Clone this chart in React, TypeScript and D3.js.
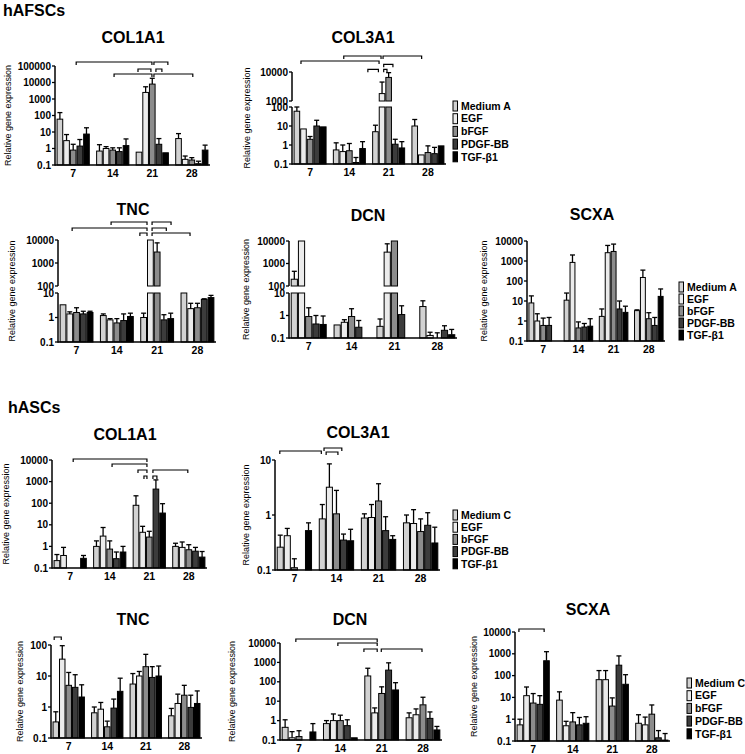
import React from 'react';
import * as d3 from 'd3';

// ---------- shared categories ----------
const DAYS = ['7', '14', '21', '28'];
const SERIES_A = ['Medium A', 'EGF', 'bFGF', 'PDGF-BB', 'TGF-β1'];
const SERIES_C = ['Medium C', 'EGF', 'bFGF', 'PDGF-BB', 'TGF-β1'];
const FILLS = ['#d2d2d2', '#ebebeb', '#8c8c8c', '#3c3c3c', '#000000'];

// ---------- hAFSCs (mean / upper error tip), rows = days, cols = series ----------
const AF_COL1A1 = [[60, 3, 0.8, 1.4, 7.5], [0.7, 1.0, 0.8, 0.65, 1.5], [0.6, 2500, 8000, 1.8, 0.55], [4, 0.22, 0.2, 0.12, 0.8]];
const AF_COL1A1_ERR = [[150, 7, 1.8, 3.5, 18], [1.7, 1.3, 1.1, 1.1, 3.8], [null, 5500, 18000, 4, null], [8, 0.35, 0.28, 0.17, 1.6]];
const AF_COL3A1 = [[60, 7, 2, 10, 9], [0.55, 0.45, 0.5, 0.12, 0.65], [5, 1800, 6500, 1.1, 0.7], [10, 0.3, 0.4, 0.35, 0.9]];
const AF_COL3A1_ERR = [[100, null, 2.8, 20, null], [1.3, 1.0, 1.2, 0.22, 1.5], [11, 4500, 9500, 2, 1.5], [22, null, 0.9, 0.75, null]];
const AF_TNC = [[3.3, 1.4, 1.6, 1.4, 1.6], [1.2, 0.8, 0.6, 0.75, 1.1], [1.0, 12000, 3000, 0.8, 0.9], [50, 2.3, 2.5, 5.5, 6.5]];
const AF_TNC_ERR = [[null, 1.7, 2.5, 1.8, 1.8], [1.4, 0.9, 0.9, 1.4, 1.5], [1.5, null, 7500, 1.3, 1.5], [null, 3.8, 3.8, 5.8, 8]];
const AF_DCN = [[200, 20000, 0.9, 0.42, 0.4], [0.38, 0.5, 0.9, 0.3, null], [0.33, 3200, 20000, 1.1, null], [2.5, 0.13, 0.1, 0.22, 0.14]];
const AF_DCN_ERR = [[450, null, 2.2, 1.0, 0.95], [null, 0.65, 2.0, 0.6, null], [0.7, 7500, null, 2.7, null], [4.5, 0.18, 0.17, 0.35, 0.24]];
const AF_SCXA = [[8, 1.0, 0.6, 0.6, null], [11, 850, 0.45, 0.5, 0.55], [1.7, 2600, 3000, 4, 2.7], [3.3, 150, 1.3, 0.6, 17]];
const AF_SCXA_ERR = [[18, 2.3, 1.4, 1.5, null], [25, 2000, 0.9, 0.75, 1.3], [4, 6000, 7000, 10, 5.5], [3.6, 350, 2.6, 1.5, 40]];

// ---------- hASCs ----------
const AS_COL1A1 = [[0.22, 0.38, null, null, 0.28], [1.0, 3, 0.75, 0.27, 0.55], [80, 4.5, 2.7, 450, 35], [1.0, 0.9, 0.7, 0.6, 0.32]];
const AS_COL1A1_ERR = [[0.42, 0.9, null, null, 0.38], [1.8, 7.5, 1.8, 0.55, 1.0], [220, 8.5, 5, 1200, 95], [1.4, 1.6, 1.2, 0.9, 0.58]];
const AS_COL3A1 = [[0.26, 0.42, 0.11, null, 0.52], [0.85, 3.2, 1.05, 0.35, 0.34], [0.88, 0.9, 1.8, 0.52, 0.36], [0.72, 0.7, 0.5, 0.65, 0.31]];
const AS_COL3A1_ERR = [[0.43, 0.57, 0.16, null, 0.72], [1.55, 8.5, 2.8, 0.45, 0.55], [1.05, 1.55, 3.7, 0.93, 0.42], [1.0, 1.25, 0.85, 1.1, 0.6]];
const AS_TNC = [[0.33, 35, 5, 4.3, 2.1], [0.65, 0.85, 0.23, 0.92, 3.2], [5.5, 10, 20, 9, 10], [0.52, 1.3, 2.4, 0.97, 1.3]];
const AS_TNC_ERR = [[0.7, 95, 13, 11, 5.2], [1.0, 1.4, 0.35, 1.8, 8.5], [12, 14, 50, 20, 21], [0.9, 2.6, 5, 2.4, 3.3]];
const AS_DCN = [[0.45, 0.13, 0.15, null, 0.26], [0.7, 1.0, 1.0, 0.55, 0.13], [200, 2.5, 25, 400, 38], [1.4, 2.0, 6.5, 1.3, 0.33]];
const AS_DCN_ERR = [[1.1, 0.27, 0.3, null, 0.7], [1.0, 2.2, 1.9, 1.1, null], [500, 4.5, 55, 950, 90], [2.5, 4, 16, 2.8, 0.5]];
const AS_SCXA = [[0.55, 12, 5.5, 4.8, 480], [7.5, 0.5, 0.75, 0.55, 0.65], [65, 65, 4, 300, 40], [0.65, 0.55, 1.7, 0.14, 0.11]];
const AS_SCXA_ERR = [[1.0, 30, 15, 12, 1250], [18, 0.8, 2, 1.2, 1.3], [170, 170, 9.5, 800, 110], [1.6, 1.25, 4.5, 0.3, 0.22]];

// ---------- significance brackets: [dayA, barA, dayB, barB, level offset] ----------
const AF_COL1A1_SIG = [[0, 2.3, 2, 2.1, -4], [2, 2.1, 2, 4.5, -4], [2, -0.3, 2, 1.95, 3], [2, 2.4, 2, 3.6, 3], [1, 2.05, 2, 2.1, 8], [2, 2.1, 3, 2.3, 8]];
const AF_COL3A1_SIG = [[1, 1, 2, 1, -16], [2, 1, 3, 1.2, -16], [0, 0.47, 2, 0.7, -11], [2, 1.1, 2, 2.8, -7.7], [2, -1.3, 2, 0.6, -2.7], [2, 1.1, 2, 1.9, -2.7]];
const AF_TNC_SIG = [[1, 1, 2, 0.65, -18], [2, 1.1, 2, 4.2, -18], [0, 1.2, 2, 0.65, -12], [2, 1.1, 2, 3.5, -12], [2, -0.7, 2, 0.65, -7], [2, 1.1, 3, 1.05, -7]];
const AS_COL1A1_SIG = [[0, 2.3, 2, 1.8, -1], [1, 2.2, 2, 1.8, 4], [2, 0.15, 2, 1.8, 10], [2, 2.4, 3, 2.0, 10], [2, 1.05, 2, 1.8, 16], [2, 2.4, 2, 3.3, 16]];
const AS_COL3A1_SIG = [[0, -0.2, 1, 0, -9], [1, 0.1, 1, 2.9, -12], [1, 0.4, 1, 2.35, -8]];
const AS_TNC_SIG = [[0, -0.4, 0, 1.0, -8]];
const AS_DCN_SIG = [[0, 1.4, 2, 1.5, -4], [1, 1.5, 2, 1.5, 0], [2, -0.7, 2, 1.5, 6], [2, 1.8, 3, 2.0, 6]];
const AS_SCXA_SIG = [[0, -0.3, 0, 3.8, -3]];

type Seg = { lo: number; hi: number; y0: number; y1: number };
type Cfg = {
  title: string; tx: number; ty: number;
  xr: [number, number]; segs: Seg[];
  mean: (number | null)[][]; err: (number | null)[][];
  sig?: number[][]; ylx: number;
  legend?: { x: number; y: number; gap: number; names: string[] };
};

const PANELS: Cfg[] = [
  { title: 'COL1A1', tx: 133, ty: 43, xr: [55, 210], segs: [{ lo: 0.1, hi: 100000, y0: 165, y1: 66 }], mean: AF_COL1A1, err: AF_COL1A1_ERR, sig: AF_COL1A1_SIG, ylx: 9 },
  { title: 'COL3A1', tx: 363, ty: 43, xr: [292, 446], segs: [{ lo: 0.1, hi: 100, y0: 164, y1: 107 }, { lo: 1000, hi: 10000, y0: 101, y1: 72 }], mean: AF_COL3A1, err: AF_COL3A1_ERR, sig: AF_COL3A1_SIG, ylx: 248, legend: { x: 453, y: 106, gap: 12.7, names: SERIES_A } },
  { title: 'TNC', tx: 133, ty: 215, xr: [58, 216], segs: [{ lo: 0.1, hi: 10, y0: 342, y1: 293 }, { lo: 100, hi: 10000, y0: 286, y1: 240 }], mean: AF_TNC, err: AF_TNC_ERR, sig: AF_TNC_SIG, ylx: 13 },
  { title: 'DCN', tx: 368, ty: 221, xr: [289, 457], segs: [{ lo: 0.1, hi: 10, y0: 338, y1: 293 }, { lo: 100, hi: 10000, y0: 286, y1: 241 }], mean: AF_DCN, err: AF_DCN_ERR, ylx: 247 },
  { title: 'SCXA', tx: 592, ty: 220, xr: [527, 665], segs: [{ lo: 0.1, hi: 10000, y0: 341, y1: 241 }], mean: AF_SCXA, err: AF_SCXA_ERR, ylx: 485, legend: { x: 679, y: 287, gap: 12, names: SERIES_A } },
  { title: 'COL1A1', tx: 125, ty: 440, xr: [52, 207], segs: [{ lo: 0.1, hi: 10000, y0: 568, y1: 460 }], mean: AS_COL1A1, err: AS_COL1A1_ERR, sig: AS_COL1A1_SIG, ylx: 7 },
  { title: 'COL3A1', tx: 358, ty: 438, xr: [275, 440], segs: [{ lo: 0.1, hi: 10, y0: 570, y1: 460 }], mean: AS_COL3A1, err: AS_COL3A1_ERR, sig: AS_COL3A1_SIG, ylx: 247, legend: { x: 453, y: 515, gap: 12.2, names: SERIES_C } },
  { title: 'TNC', tx: 133, ty: 625, xr: [51, 202], segs: [{ lo: 0.1, hi: 100, y0: 738, y1: 645 }], mean: AS_TNC, err: AS_TNC_ERR, sig: AS_TNC_SIG, ylx: 21 },
  { title: 'DCN', tx: 350, ty: 625, xr: [280, 442], segs: [{ lo: 0.1, hi: 10000, y0: 740, y1: 643 }], mean: AS_DCN, err: AS_DCN_ERR, sig: AS_DCN_SIG, ylx: 233 },
  { title: 'SCXA', tx: 588, ty: 615, xr: [515, 670], segs: [{ lo: 0.1, hi: 10000, y0: 741, y1: 632 }], mean: AS_SCXA, err: AS_SCXA_ERR, sig: AS_SCXA_SIG, ylx: 475, legend: { x: 687, y: 683, gap: 12.7, names: SERIES_C } },
];

const FONT = '"Liberation Sans", Arial, sans-serif';

function fmt(v: number) {
  return v < 1 ? String(v) : d3.format('d')(v);
}

function Panel({ c }: { c: Cfg }) {
  const x = d3.scaleBand<string>().domain(DAYS).range(c.xr).paddingInner(0.16).paddingOuter(0.04);
  const bw = x.bandwidth() / SERIES_A.length;
  const segs = c.segs.map((s) => ({ ...s, sc: d3.scaleLog().domain([s.lo, s.hi]).range([s.y0, s.y1]) }));
  const bottom = segs[0].y0;
  const top = segs[segs.length - 1].y1;
  const barX = (g: number, b: number) => (x(DAYS[g]) as number) + (b + 0.5) * bw;
  const elems: React.ReactNode[] = [];

  c.mean.forEach((row, g) => {
    row.forEach((v, s) => {
      if (v == null) return;
      const x0 = (x(DAYS[g]) as number) + s * bw + 0.5;
      segs.forEach((sg, k) => {
        if (v <= sg.lo) return;
        const yt = sg.sc(Math.min(v, sg.hi));
        elems.push(
          <rect key={`b${g}-${s}-${k}`} x={x0} y={yt} width={bw - 1} height={Math.max(0, sg.y0 - yt)}
            fill={FILLS[s]} stroke="#000" strokeWidth={1} />
        );
      });
      const e = c.err[g][s];
      if (e != null && e > v) {
        let sg = segs.find((q) => e >= q.lo && e <= q.hi) || segs[segs.length - 1];
        const vv = Math.max(v, sg.lo);
        const cx = barX(g, s);
        const y1 = sg.sc(Math.min(vv, sg.hi));
        const capped = e <= sg.hi;
        const y2 = sg.sc(Math.min(e, sg.hi));
        elems.push(<line key={`e${g}-${s}`} x1={cx} x2={cx} y1={y1} y2={y2} stroke="#000" strokeWidth={1.3} />);
        if (capped) elems.push(<line key={`c${g}-${s}`} x1={cx - 2.5} x2={cx + 2.5} y1={y2} y2={y2} stroke="#000" strokeWidth={1.3} />);
      }
    });
  });

  const axisX = c.xr[0];
  return (
    <g fontFamily={FONT}>
      <text x={c.tx} y={c.ty} textAnchor="middle" fontSize={16} fontWeight="bold">{c.title}</text>
      <text transform={`translate(${c.ylx},${(top + bottom) / 2}) rotate(-90)`} textAnchor="middle" dominantBaseline="middle" fontSize={9}>Relative gene expression</text>
      {elems}
      {segs.map((sg, k) => {
        const ticks: number[] = [];
        for (let t = sg.lo; t <= sg.hi * 1.0001; t *= 10) ticks.push(t);
        return (
          <g key={`ax${k}`}>
            <line x1={axisX} x2={axisX} y1={sg.y0 + (k === 0 ? 0.75 : 0)} y2={sg.y1} stroke="#000" strokeWidth={1.5} />
            {ticks.map((t) => (
              <g key={t}>
                <line x1={axisX - 3} x2={axisX} y1={sg.sc(t)} y2={sg.sc(t)} stroke="#000" strokeWidth={1.3} />
                <text x={axisX - 4} y={sg.sc(t)} dy="0.35em" textAnchor="end" fontSize={10} fontWeight="bold">{fmt(Math.round(t * 10) / 10)}</text>
              </g>
            ))}
          </g>
        );
      })}
      <line x1={axisX} x2={c.xr[1]} y1={bottom} y2={bottom} stroke="#000" strokeWidth={1.5} />
      {DAYS.map((d) => (
        <text key={d} x={(x(d) as number) + x.bandwidth() / 2} y={bottom + 12} textAnchor="middle" fontSize={10.5} fontWeight="bold">{d}</text>
      ))}
      {(c.sig || []).map(([g1, b1, g2, b2, dy], i) => {
        const xa = barX(g1, b1) + 1;
        const xb = barX(g2, b2) - 1;
        const y = top + dy;
        return <path key={`s${i}`} d={`M${xa},${y + 3}V${y}H${xb}V${y + 3}`} fill="none" stroke="#000" strokeWidth={1.2} />;
      })}
      {c.legend && c.legend.names.map((n, i) => (
        <g key={n}>
          <rect x={c.legend!.x} y={c.legend!.y + i * c.legend!.gap - 5} width={4.5} height={10} fill={FILLS[i]} stroke="#000" strokeWidth={1} />
          <text x={c.legend!.x + 8} y={c.legend!.y + i * c.legend!.gap} dy="0.36em" fontSize={10.5} fontWeight="bold">{n}</text>
        </g>
      ))}
    </g>
  );
}

export default function App() {
  return (
    <svg width={745} height={754} style={{ position: 'absolute', left: 0, top: 0, background: '#fff' }}>
      <rect width={745} height={754} fill="#fff" />
      <text x={3} y={16} fontFamily={FONT} fontSize={16} fontWeight="bold">hAFSCs</text>
      <text x={8} y={413} fontFamily={FONT} fontSize={16} fontWeight="bold">hASCs</text>
      {PANELS.map((c, i) => <Panel key={i} c={c} />)}
    </svg>
  );
}
